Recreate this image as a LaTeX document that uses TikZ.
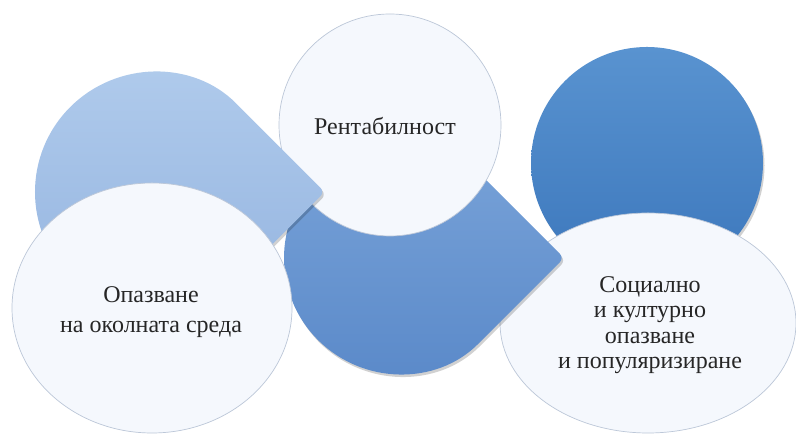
\documentclass[tikz,border=0pt]{standalone}
\usepackage{fontspec}
\setmainfont{Liberation Serif}
\definecolor{lightA}{HTML}{B0CBEC}
\definecolor{lightB}{HTML}{93B3DF}
\definecolor{midA}{HTML}{7AA4D9}
\definecolor{midB}{HTML}{5A89C9}
\definecolor{darkA}{HTML}{5993D0}
\definecolor{darkB}{HTML}{3C77BC}
\definecolor{wfill}{HTML}{F5F8FD}
\definecolor{wline}{HTML}{BCC7D8}
\definecolor{txt}{HTML}{262626}
% teardrop: centre (x,y), radius r, point towards the east
\newcommand\tearpath[3]{({#1+0.70711*#3},{#2+0.70711*#3}) arc[start angle=45,end angle=315,radius=#3pt] -- ({#1+1.41421*#3},#2) -- cycle}
\tikzset{
  wshape/.style={fill=wfill, draw=wline, line width=0.7pt},
  shad/.style={fill=black, opacity=0.18, shift={(1.5pt,-2.5pt)}},
  tear/.style={rounded corners=6pt},
  lbl/.style={font=\fontsize{24}{30}\selectfont, text=txt, align=center, inner sep=0pt},
}
\begin{document}
\begin{tikzpicture}[x=1pt,y=1pt]
\fill[white] (0,0) rectangle (796,435);
\useasboundingbox (0,0) rectangle (796,435);
% right dark circle
\fill[shad] (647,272) circle[radius=116pt];
\shade[top color=darkA,bottom color=darkB] (647,272) circle[radius=116pt];
% right white ellipse
\path[wshape] (648,112) ellipse[x radius=148pt, y radius=110pt];
% middle teardrop
\fill[shad,tear] \tearpath{400}{177}{116};
\shade[tear,top color=midA,bottom color=midB] \tearpath{400}{177}{116};
% top white circle
\path[wshape] (390,310) circle[radius=111pt];
% left teardrop
\fill[shad,tear] \tearpath{155}{243}{120};
\shade[tear,top color=lightA,bottom color=lightB] \tearpath{155}{243}{120};
% left white ellipse
\path[wshape] (152,127) ellipse[x radius=140pt, y radius=125pt];
% labels
\node[lbl] (rent) at (385,309) {Рентабилност};
\node[lbl] (env) at (151,123) {Опазване\\на околната среда};
\node[lbl, font=\fontsize{24}{25.5}\selectfont] (soc) at (650,110) {Социално\\и културно\\опазване\\и популяризиране};
\end{tikzpicture}
\end{document}
